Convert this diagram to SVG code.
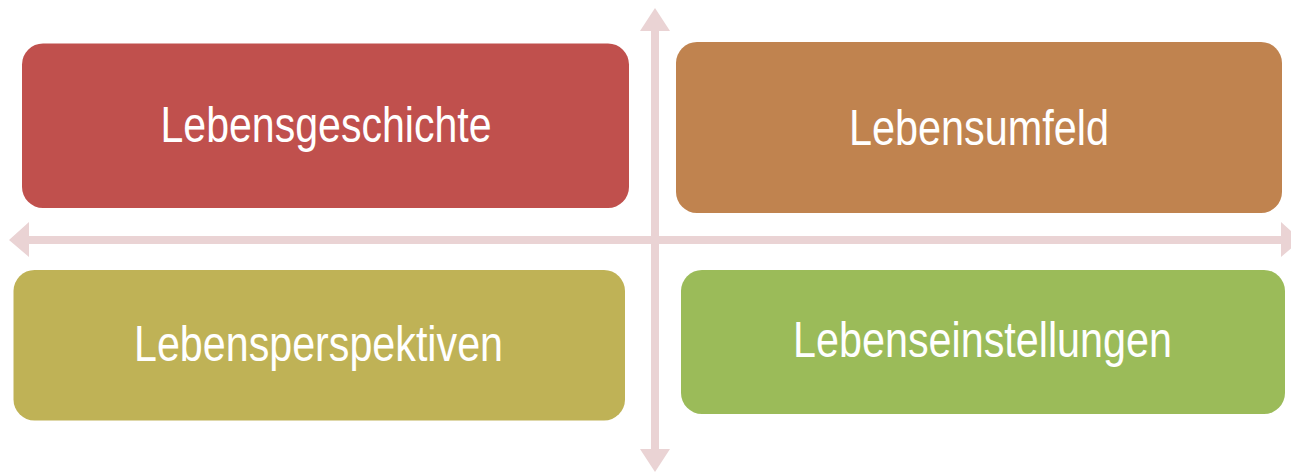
<svg xmlns="http://www.w3.org/2000/svg" width="1291" height="472" viewBox="0 0 1291 472">
<style>
.arrow{fill:#EAD3D4;stroke:none}
.box{stroke:none}
.lbl{font-family:"Liberation Sans",Arial,sans-serif;font-size:50px;fill:#FFFFFF;text-anchor:middle}
</style>
<rect width="1291" height="472" fill="#FFFFFF"/>
<g id="connectors">
<polygon class="arrow" points="655,8 670,31 659,31 659,449 670,449 655,472 640,449 651,449 651,31 640,31"/>
<polygon class="arrow" points="9,240 29,222 29,236 1281,236 1281,222 1301,240 1281,257 1281,244 29,244 29,257"/>
</g>
<g id="node-lebensgeschichte">
<rect class="box" x="22" y="43.5" width="607" height="164.5" rx="21" fill="#C0504D"/>
<text class="lbl" x="326" y="142" textLength="331" lengthAdjust="spacingAndGlyphs">Lebensgeschichte</text>
</g>
<g id="node-lebensumfeld">
<rect class="box" x="676" y="42" width="606" height="171" rx="21" fill="#C0834F"/>
<text class="lbl" x="979" y="145" textLength="260" lengthAdjust="spacingAndGlyphs">Lebensumfeld</text>
</g>
<g id="node-lebensperspektiven">
<rect class="box" x="13.5" y="270" width="611.5" height="150.5" rx="21" fill="#BFB256"/>
<text class="lbl" x="318.5" y="361" textLength="369" lengthAdjust="spacingAndGlyphs">Lebensperspektiven</text>
</g>
<g id="node-lebenseinstellungen">
<rect class="box" x="681" y="270" width="604" height="144" rx="21" fill="#9BBB59"/>
<text class="lbl" x="982.5" y="357" textLength="379" lengthAdjust="spacingAndGlyphs">Lebenseinstellungen</text>
</g>
</svg>
